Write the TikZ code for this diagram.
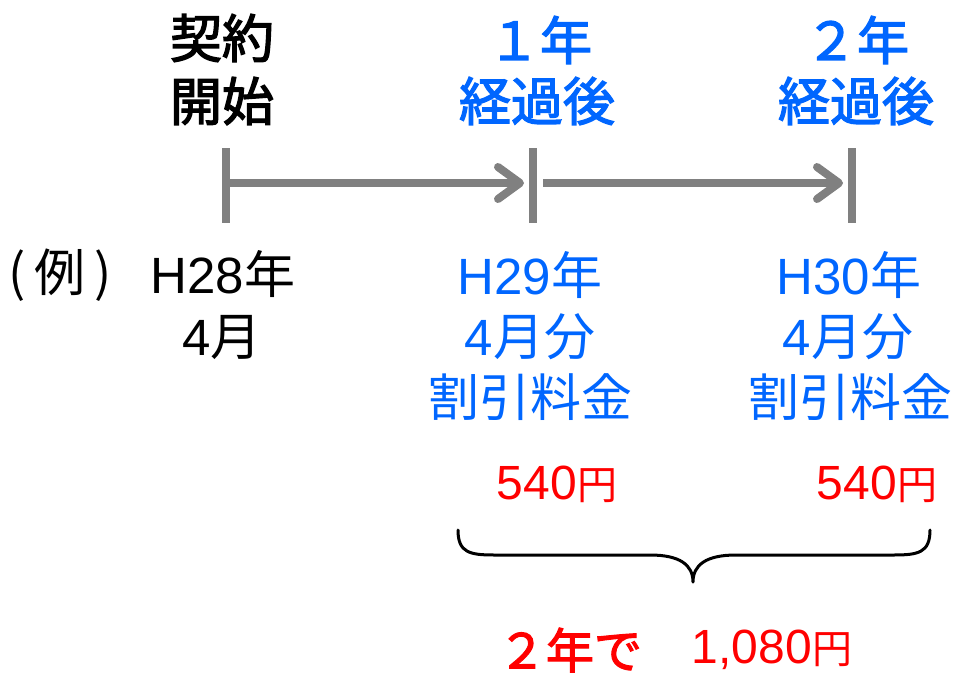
\documentclass[tikz,border=0pt]{standalone}
\usepackage{fontspec}
\setmainfont{Liberation Sans}
\newfontfamily\cjk{Noto Sans CJK JP}
\newfontfamily\cjkb[FakeBold=2.5]{Noto Sans CJK JP}
\usetikzlibrary{arrows.meta}
\definecolor{tlgray}{RGB}{128,128,128}
\definecolor{tlblue}{RGB}{0,102,255}
\definecolor{tlred}{RGB}{255,0,0}
\begin{document}
\begin{tikzpicture}[x=1pt,y=-1pt,
  txt/.style={inner sep=0pt, anchor=center, font=\fontsize{51}{51}\selectfont},
  head/.style={txt, font=\fontsize{52}{52}\selectfont\cjkb},
  blk/.style={text=black},
  blu/.style={text=tlblue},
  red/.style={txt, text=tlred, font=\fontsize{48}{48}\selectfont},
  tickline/.style={draw=tlgray, line width=8pt},
  arr/.style={draw=tlgray, line width=8pt, -{Straight Barb[length=22pt,width=32pt,round]}},
  bracepath/.style={draw=black, line width=3pt, line cap=round, line join=round}
]
\useasboundingbox (0,0) rectangle (958,678);

% ticks
\coordinate (t0a) at (226,148); \coordinate (t0b) at (226,223);
\coordinate (t1a) at (533,148); \coordinate (t1b) at (533,223);
\coordinate (t2a) at (852,148); \coordinate (t2b) at (852,223);
\draw[tickline] (t0a) -- (t0b);
\draw[tickline] (t1a) -- (t1b);
\draw[tickline] (t2a) -- (t2b);

% arrows
\coordinate (s0) at (230,183); \coordinate (e1) at (524,183);
\coordinate (s1) at (543,183); \coordinate (e2) at (843,183);
\draw[arr] (s0) -- (e1);
\draw[arr] (s1) -- (e2);

% headings
\node[head, blk] (k1) at (222,38) {契約};
\node[head, blk] (k2) at (222,101) {開始};
\node[head, blu] (y1a) at (540,40) {１年};
\node[head, blu] (y1b) at (537,101) {経過後};
\node[head, blu] (y2a) at (857,40) {２年};
\node[head, blu] (y2b) at (856,101) {経過後};

% example row
\node[txt, blk] (ex) at (60,275) {{\cjk (\kern9pt 例\kern9pt )}};
\node[txt, blk] (d0a) at (223,274) {H28{\cjk 年}};
\node[txt, blk] (d0b) at (222,337) {4{\cjk 月}};
\node[txt, blu] (d1a) at (530,275) {H29{\cjk 年}};
\node[txt, blu] (d1b) at (530,337) {4{\cjk 月分}};
\node[txt, blu] (d1c) at (530,397) {{\cjk 割引料金}};
\node[txt, blu] (d2a) at (849,275) {H30{\cjk 年}};
\node[txt, blu] (d2b) at (848,337) {4{\cjk 月分}};
\node[txt, blu] (d2c) at (850,397) {{\cjk 割引料金}};

% amounts
\node[red] (p1) at (557,484) {540{\fontsize{40}{40}\selectfont\cjk 円}};
\node[red] (p2) at (877,484) {540{\fontsize{40}{40}\selectfont\cjk 円}};

% brace
\coordinate (bl) at (458,530);
\coordinate (bt) at (693,582);
\coordinate (br) at (930,530);
\draw[bracepath] (bl) .. controls (458,553) and (470,555) .. (495,555) -- (650,555)
  .. controls (680,555) and (693,565) .. (bt)
  .. controls (693,565) and (706,555) .. (736,555) -- (893,555)
  .. controls (918,555) and (930,553) .. (br);

% total
\node[red, font=\fontsize{48}{48}\selectfont\cjkb] (tot1) at (570,650) {２年で};
\node[red] (tot2) at (772,650) {1,080{\fontsize{40}{40}\selectfont\cjk 円}};
\end{tikzpicture}
\end{document}
